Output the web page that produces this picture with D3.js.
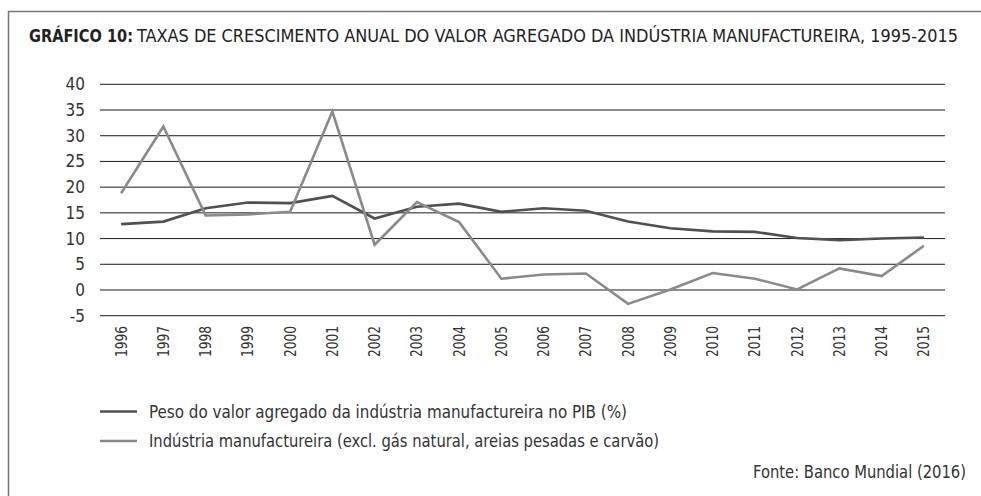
<!DOCTYPE html>
<html>
<head>
<meta charset="utf-8">
<script src="https://cdn.jsdelivr.net/npm/d3@7"></script>
<style>
  html, body { margin: 0; padding: 0; background: #fff; }
  svg { display: block; }
  text { font-family: "Liberation Sans Narrow", "DejaVu Sans Condensed", "Roboto", sans-serif; fill: #333; }
</style>
</head>
<body>
<svg id="chart" width="981" height="496"></svg>
<script>
// Anos e séries (taxas, %)
const years = ["1996","1997","1998","1999","2000","2001","2002","2003","2004","2005",
               "2006","2007","2008","2009","2010","2011","2012","2013","2014","2015"];
const pesoPIB = [12.8, 13.3, 15.9, 17.0, 16.9, 18.3, 13.9, 16.2, 16.8, 15.2,
                 15.9, 15.4, 13.3, 12.0, 11.4, 11.3, 10.1, 9.7, 10.0, 10.2];
const industria = [18.8, 31.8, 14.5, 14.7, 15.2, 34.7, 8.8, 17.1, 13.2, 2.2,
                   3.0, 3.2, -2.7, 0.1, 3.3, 2.2, 0.1, 4.2, 2.7, 8.6];
const yTicks = [-5, 0, 5, 10, 15, 20, 25, 30, 35, 40];
const yTickLabels = ["-5", "0", "5", "10", "15", "20", "25", "30", "35", "40"];
const seriesNames = [
  "Peso do valor agregado da indústria manufactureira no PIB (%)",
  "Indústria manufactureira (excl. gás natural, areias pesadas e carvão)"
];
const seriesColors = ["#505050", "#8a8a8a"];

const svg = d3.select("#chart");

// Moldura (só os lados superior e esquerdo ficam visíveis)
svg.append("rect")
  .attr("x", 8.5).attr("y", 11.5)
  .attr("width", 1000).attr("height", 520)
  .attr("fill", "none").attr("stroke", "#777").attr("stroke-width", 1.5);

// Título
svg.append("text")
  .attr("x", 29).attr("y", 42)
  .attr("font-size", 18).attr("font-weight", "bold")
  .attr("textLength", 104).attr("lengthAdjust", "spacingAndGlyphs")
  .style("fill", "#222")
  .text("GRÁFICO 10:");
svg.append("text")
  .attr("x", 137).attr("y", 42)
  .attr("font-size", 18)
  .attr("textLength", 821).attr("lengthAdjust", "spacingAndGlyphs")
  .style("fill", "#222")
  .text("TAXAS DE CRESCIMENTO ANUAL DO VALOR AGREGADO DA INDÚSTRIA MANUFACTUREIRA, 1995-2015");

// Escalas
const x = d3.scaleBand().domain(years).range([100, 945]);
const y = d3.scaleLinear().domain([-5, 40]).range([315.7, 84.3]);

// Grelha horizontal
svg.append("g").selectAll("line")
  .data(yTicks).join("line")
  .attr("x1", 100).attr("x2", 945)
  .attr("y1", d => y(d)).attr("y2", d => y(d))
  .attr("stroke", "#1a1a1a").attr("stroke-width", 1);

// Eixo Y (hífen simples no sinal negativo)
const yAxis = d3.axisLeft(y).tickValues(yTicks)
  .tickFormat((d, i) => yTickLabels[i])
  .tickSize(0).tickPadding(0);
const gy = svg.append("g").attr("transform", "translate(85,0)").call(yAxis);
gy.select(".domain").remove();
gy.selectAll("text")
  .attr("font-size", 17)
  .attr("font-family", null)
  .style("fill", "#333");

// Eixo X (rótulos verticais)
const xAxis = d3.axisBottom(x).tickSize(0).tickPadding(0);
const gx = svg.append("g").attr("transform", "translate(0,326)").call(xAxis);
gx.select(".domain").remove();
gx.selectAll("text")
  .attr("font-size", 16)
  .attr("font-family", null)
  .attr("text-anchor", "end")
  .attr("dy", null).attr("y", 0).attr("x", 0)
  .attr("dominant-baseline", "central")
  .attr("transform", "rotate(-90)")
  .attr("textLength", 31).attr("lengthAdjust", "spacingAndGlyphs")
  .style("fill", "#333");

// Linhas
const line = d3.line()
  .x((d, i) => x(years[i]) + x.bandwidth() / 2)
  .y(d => y(d));

[pesoPIB, industria].forEach((s, k) => {
  svg.append("path")
    .datum(s)
    .attr("d", line)
    .attr("fill", "none")
    .attr("stroke", seriesColors[k])
    .attr("stroke-width", 2.6)
    .attr("stroke-linejoin", "miter");
});

// Legenda
const legend = svg.append("g");
const legendY = [411.5, 441];
const legendLen = [478, 510];
seriesNames.forEach((name, k) => {
  legend.append("line")
    .attr("x1", 100).attr("x2", 137)
    .attr("y1", legendY[k]).attr("y2", legendY[k])
    .attr("stroke", seriesColors[k]).attr("stroke-width", 2.6);
  legend.append("text")
    .attr("x", 149).attr("y", legendY[k])
    .attr("dominant-baseline", "central")
    .attr("font-size", 17)
    .attr("textLength", legendLen[k]).attr("lengthAdjust", "spacingAndGlyphs")
    .style("fill", "#333")
    .text(name);
});

// Fonte
svg.append("text")
  .attr("x", 966).attr("y", 478)
  .attr("text-anchor", "end")
  .attr("font-size", 17)
  .attr("textLength", 213).attr("lengthAdjust", "spacingAndGlyphs")
  .style("fill", "#333")
  .text("Fonte: Banco Mundial (2016)");
</script>
</body>
</html>
